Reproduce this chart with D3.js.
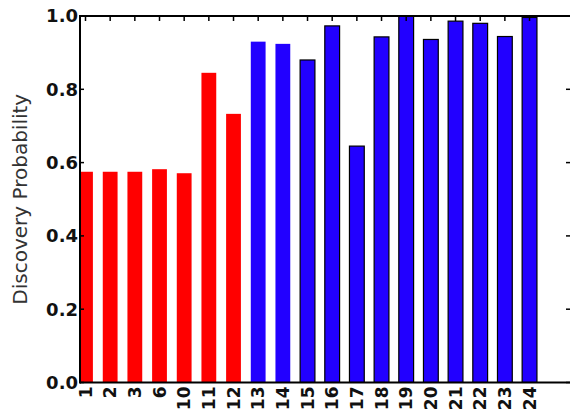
<!DOCTYPE html>
<html><head><meta charset="utf-8">
<script src="https://cdn.jsdelivr.net/npm/d3@7"></script>
<style>body{margin:0;background:#fff}svg{display:block}</style>
</head><body>
<script>
const categories = ["1","2","3","6","10","11","12","13","14","15","16","17","18","19","20","21","22","23","24"];
const values = [0.575,0.575,0.575,0.582,0.571,0.845,0.733,0.930,0.924,0.880,0.973,0.645,0.943,1.0,0.936,0.986,0.980,0.944,0.996];
const groups = ["red","red","red","red","red","red","red","blue","blue","blue","blue","blue","blue","blue","blue","blue","blue","blue","blue"];
const yTicks = [0.0,0.2,0.4,0.6,0.8,1.0];
const yLabel = "Discovery Probability";

const W = 570, H = 418;
const L = 80, R = 570, T = 16, B = 382.5;
const svg = d3.select("body").append("svg").attr("width", W).attr("height", H);

const x = d3.scaleLinear().domain([-0.223, 19.64]).range([L, R]);
const y = d3.scaleLinear().domain([0, 1]).range([B, T]);
const bw = x(0.6) - x(0);
const colors = {red: "#ff0000", blue: "#2200ff"};

svg.append("defs").append("clipPath").attr("id", "clip")
  .append("rect").attr("x", L).attr("y", T).attr("width", R - L).attr("height", B - T);

const g = svg.append("g").attr("clip-path", "url(#clip)");
g.selectAll("rect.bar").data(values).join("rect")
  .attr("class", "bar")
  .attr("x", (d, i) => x(i) - bw / 2)
  .attr("width", bw)
  .attr("y", d => y(d))
  .attr("height", d => y(0) - y(d))
  .attr("fill", (d, i) => colors[groups[i]])
  .attr("stroke", (d, i) => (+categories[i] >= 15 ? "#000" : "none"))
  .attr("stroke-width", 1.2);

// spines
const ax = svg.append("g").attr("stroke", "#000").attr("fill", "none");
ax.append("line").attr("x1", L).attr("x2", R + 2).attr("y1", T).attr("y2", T).attr("stroke-width", 2);
ax.append("line").attr("x1", L).attr("x2", R + 2).attr("y1", B).attr("y2", B).attr("stroke-width", 2);
ax.append("line").attr("x1", L).attr("x2", L).attr("y1", T - 1).attr("y2", B + 1).attr("stroke-width", 2);

// y ticks (inward, left and right)
yTicks.forEach(t => {
  ax.append("line").attr("x1", L).attr("x2", L + 4).attr("y1", y(t)).attr("y2", y(t)).attr("stroke-width", 1.5);
  ax.append("line").attr("x1", R - 4).attr("x2", R).attr("y1", y(t)).attr("y2", y(t)).attr("stroke-width", 1.5);
});
// x ticks on top (inward)
categories.forEach((c, i) => {
  ax.append("line").attr("x1", x(i)).attr("x2", x(i)).attr("y1", T).attr("y2", T + 5).attr("stroke-width", 1.5);
});

// y tick labels
svg.append("g").selectAll("text").data(yTicks).join("text")
  .attr("x", L - 2).attr("y", d => y(d))
  .attr("dy", "0.36em")
  .attr("text-anchor", "end")
  .attr("font-family", "DejaVu Sans").attr("font-weight", "bold").attr("font-size", 18)
  .attr("fill", "#111")
  .text(d => d.toFixed(1));

// x tick labels rotated
svg.append("g").selectAll("text").data(categories).join("text")
  .attr("transform", (d, i) => `translate(${x(i)},${B + 4}) rotate(-90)`)
  .attr("text-anchor", "end")
  .attr("dy", "0.36em")
  .attr("font-family", "DejaVu Sans").attr("font-weight", "bold").attr("font-size", 17)
  .attr("fill", "#111")
  .text(d => d);

// y axis label
svg.append("text")
  .attr("transform", `translate(20,${(T + B) / 2}) rotate(-90)`)
  .attr("text-anchor", "middle")
  .attr("dy", "0.36em")
  .attr("font-family", "DejaVu Sans").attr("font-size", 20)
  .attr("fill", "#333")
  .text(yLabel);
</script>
</body></html>
